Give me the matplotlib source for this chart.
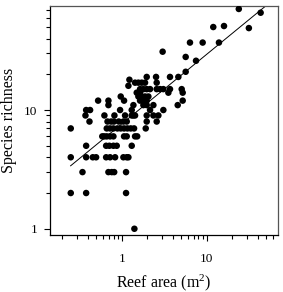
import matplotlib
matplotlib.use("Agg")
import matplotlib.pyplot as plt
import numpy as np
from matplotlib.ticker import FixedLocator, FixedFormatter, NullFormatter

plt.rcParams['font.family'] = ['Liberation Serif', 'DejaVu Serif']
plt.rcParams['mathtext.fontset'] = 'custom'
plt.rcParams['mathtext.rm'] = 'Liberation Serif'
plt.rcParams['mathtext.it'] = 'Liberation Serif:italic'

# Reef area (m^2) and species richness
reef_area = [
    0.251, 0.251, 0.251, 0.345, 0.381, 0.381, 0.381, 0.374, 0.381, 0.424, 0.417,
    0.456, 0.499, 0.527, 0.625, 0.697, 0.697,
    0.590, 0.620, 0.666, 0.729, 0.798,
    0.666, 0.729, 0.798,
    0.680, 0.750, 0.810,
    0.655, 0.715, 0.798, 0.873,
    0.655, 0.729, 0.835,
    0.697, 0.763, 0.815,
    0.820, 0.956, 0.973, 1.065,
    0.889, 0.973, 1.065, 1.166, 1.276, 1.397,
    0.922, 1.046, 1.145,
    1.094, 1.311, 1.435,
    1.065, 1.145, 1.435, 1.52,
    1.311,
    1.046, 1.145, 1.198,
    1.124, 1.124, 1.409,
    1.198, 1.231, 1.311, 1.372, 1.372,
    1.435, 1.570, 1.719, 1.881,
    1.643, 1.798, 1.968, 2.154,
    1.501, 1.643,
    1.570, 1.719, 1.881, 2.059,
    1.643, 1.798, 1.968,
    1.798, 1.968, 2.358,
    2.154, 1.968, 2.358, 1.968, 1.916,
    2.535, 1.968, 2.580, 2.580, 2.825, 3.09,
    2.700, 2.580, 3.09, 3.03,
    3.70, 3.70, 3.54, 4.64, 5.08, 5.22, 5.22, 4.56,
    5.66, 5.66, 6.36, 7.49, 8.97, 11.96, 13.95, 16.0, 23.9, 31.4, 43.2,
]
species_richness = [
    7, 4, 2, 3, 2, 4, 5, 9, 10, 10, 8,
    4, 4, 12, 9, 12, 11,
    6, 6, 6, 6, 6,
    7, 7, 7,
    8, 8, 8,
    5, 5, 5, 5,
    4, 4, 4,
    3, 3, 3,
    9, 10, 13, 12,
    7, 7, 7, 7, 7, 7,
    8, 8, 8,
    9, 9, 9,
    6, 6, 6, 6,
    5,
    4, 4, 4,
    3, 2, 1,
    16, 18, 10, 11, 9,
    17, 17, 17, 17,
    15, 15, 15, 15,
    14, 14,
    13, 13, 13, 13,
    12, 12, 12,
    11, 11, 11,
    10, 9, 9, 8, 7,
    19, 19, 17, 15, 15, 15,
    9, 8, 10, 31,
    19, 15, 14, 19, 15, 14, 12, 11,
    28, 21, 37, 26, 37, 50, 37, 51, 71, 49, 66,
]

# Fitted power law: S = c * A^z
fit_c = 7.64
fit_z = 0.586
fit_range = [0.25, 60.0]

x_major = [1, 10]
x_major_labels = ["1", "10"]
x_minor = [0.2, 0.3, 0.4, 0.5, 0.6, 0.7, 0.8, 0.9, 2, 3, 4, 5, 6, 7, 8, 9,
           20, 30, 40, 50, 60]
y_major = [1, 10]
y_major_labels = ["1", "10"]
y_minor = [2, 3, 4, 5, 6, 7, 8, 9, 20, 30, 40, 50, 60, 70]

fig = plt.figure(figsize=(2.83, 2.92), dpi=100)
ax = fig.add_axes([0.1767, 0.195, 0.8053, 0.784])

ax.scatter(reef_area, species_richness, s=22, c='black', edgecolors='none', zorder=3)

xf = np.logspace(np.log10(fit_range[0]), np.log10(fit_range[1]), 50)
ax.plot(xf, fit_c * xf ** fit_z, color='black', lw=0.7, zorder=2)

ax.set_xscale('log')
ax.set_yscale('log')
ax.set_xlim(0.143, 69)
ax.set_ylim(0.885, 75)

ax.xaxis.set_major_locator(FixedLocator(x_major))
ax.xaxis.set_major_formatter(FixedFormatter(x_major_labels))
ax.xaxis.set_minor_locator(FixedLocator(x_minor))
ax.xaxis.set_minor_formatter(NullFormatter())
ax.yaxis.set_major_locator(FixedLocator(y_major))
ax.yaxis.set_major_formatter(FixedFormatter(y_major_labels))
ax.yaxis.set_minor_locator(FixedLocator(y_minor))
ax.yaxis.set_minor_formatter(NullFormatter())

ax.tick_params(which='major', direction='out', length=4, width=0.8, labelsize=9.5, pad=5)
ax.tick_params(which='minor', direction='out', length=3, width=0.8)
ax.tick_params(axis='x', pad=9)

for sp in ax.spines.values():
    sp.set_linewidth(0.9)
ax.spines['right'].set_color('#555555')
ax.spines['top'].set_color('#555555')

ax.set_xlabel('Reef area (m$\\mathregular{^2}$)', fontsize=11.5, labelpad=5)
ax.set_ylabel('Species richness', fontsize=11.5, labelpad=5)

fig.savefig('out.png', dpi=100)
